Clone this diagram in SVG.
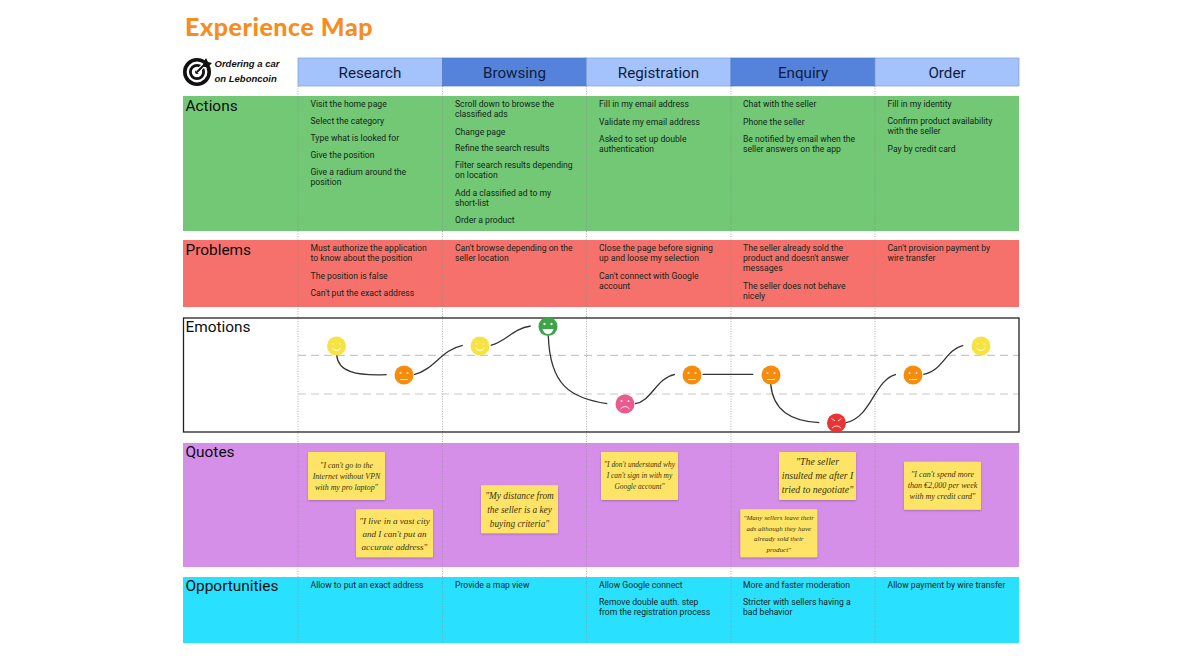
<svg xmlns="http://www.w3.org/2000/svg" width="1200" height="663" viewBox="0 0 1200 663">
<style>
text{font-family:Roboto,"Liberation Sans",sans-serif;fill:#12261a}
.t{font-size:8.65px}
.h{font-size:15.2px;text-anchor:middle;fill:#101c3c}
.r{font-size:15.4px;fill:#0c0c0c}
.l{fill:none;stroke:#333;stroke-width:1.3}
.d{stroke:#c8c8c8;stroke-width:1.2;stroke-dasharray:8 5}
.c{stroke:#8a8a8a;stroke-opacity:.65;stroke-width:1;stroke-dasharray:1 1.5}
.n{fill:#fde466;filter:url(#s)}
.q{font-family:"Liberation Serif",serif;font-style:italic;text-anchor:middle;fill:#3a3416}
.f{fill:none;stroke:#fff;stroke-opacity:.85;stroke-width:1}
.e{fill:#fff;fill-opacity:.85}
</style>
<defs>
<filter id="s" x="-10%" y="-10%" width="120%" height="125%"><feDropShadow dx="0" dy="1" stdDeviation="0.8" flood-color="#000" flood-opacity=".25"/></filter>
</defs>
<rect width="1200" height="663" fill="#fff"/>
<text id="title" x="185" y="36" textLength="189" style="font-family:Lato,sans-serif;font-weight:900;font-size:25px;fill:#f68d1f;letter-spacing:1.5px">Experience Map</text>

<g id="logo">
<circle cx="197" cy="72" r="12.2" fill="none" stroke="#111" stroke-width="3.6"/>
<circle cx="197" cy="72" r="6.6" fill="none" stroke="#111" stroke-width="2.8"/>
<circle cx="197" cy="72" r="2" fill="#111"/>
<path d="M197 72L205 64" stroke="#fff" stroke-width="4.5"/>
<path d="M197 72L205 64" stroke="#111" stroke-width="2"/>
<path d="M203 63L206 58L208 62L212 63L208 67L204 67Z" fill="#111"/>
<text x="214.500" y="67" style="font-family:'Liberation Sans',sans-serif;font-style:italic;font-weight:700;font-size:9.500px;fill:#111">Ordering a car</text>
<text x="214.500" y="82" style="font-family:'Liberation Sans',sans-serif;font-style:italic;font-weight:700;font-size:9.500px;fill:#111">on Leboncoin</text>
</g>

<g id="row-actions"><rect x="183" y="96" width="836" height="135" fill="#72c875"/><text class="r" x="185.500" y="110.500">Actions</text></g>
<g id="row-problems"><rect x="183" y="240" width="836" height="67" fill="#f7716c"/><text class="r" x="185.500" y="254.500">Problems</text></g>
<g id="row-emotions"><rect x="183.500" y="318" width="835.500" height="114" fill="#fff"/><text class="r" x="185.500" y="331.500">Emotions</text></g>
<g id="row-quotes"><rect x="183" y="443" width="836" height="124" fill="#d68fe8"/><text class="r" x="185.500" y="456.500">Quotes</text></g>
<g id="row-opportunities"><rect x="183" y="577" width="836" height="66" fill="#29e1ff"/><text class="r" x="185.500" y="591">Opportunities</text></g>

<g id="grid">
<path class="c" d="M298 86V643M442.500 86V643M586.500 86V643M731 86V643M875 86V643"/>
<path class="d" d="M298 355.300H1019M298 394H1019"/>
<rect x="183.500" y="318" width="835.500" height="114" fill="none" stroke="#222" stroke-width="1.300"/>
</g>

<g id="stage-research"><rect x="298" y="58" width="144.500" height="28" fill="#a4c2fb" stroke="#7f9fd8" stroke-width=".7"/><text class="h" x="370" y="77.500">Research</text></g>
<g id="stage-browsing"><rect x="442.500" y="58" width="144" height="28" fill="#5583db" stroke="#4a75c5" stroke-width=".7"/><text class="h" x="514.500" y="77.500">Browsing</text></g>
<g id="stage-registration"><rect x="586.500" y="58" width="144.500" height="28" fill="#a4c2fb" stroke="#7f9fd8" stroke-width=".7"/><text class="h" x="658.500" y="77.500">Registration</text></g>
<g id="stage-enquiry"><rect x="731" y="58" width="144" height="28" fill="#5583db" stroke="#4a75c5" stroke-width=".7"/><text class="h" x="803" y="77.500">Enquiry</text></g>
<g id="stage-order"><rect x="875" y="58" width="144" height="28" fill="#a4c2fb" stroke="#7f9fd8" stroke-width=".7"/><text class="h" x="947" y="77.500">Order</text></g>

<g id="actions-text">
<text class="t" x="310.500" y="107">Visit the home page</text>
<text class="t" x="310.500" y="124">Select the category</text>
<text class="t" x="310.500" y="141">Type what is looked for</text>
<text class="t" x="310.500" y="158">Give the position</text>
<text class="t" x="310.500" y="174.500">Give a radium around the</text>
<text class="t" x="310.500" y="184.500">position</text>
<text class="t" x="455" y="107">Scroll down to browse the</text>
<text class="t" x="455" y="117">classified ads</text>
<text class="t" x="455" y="134.500">Change page</text>
<text class="t" x="455" y="151">Refine the search results</text>
<text class="t" x="455" y="168">Filter search results depending</text>
<text class="t" x="455" y="178">on location</text>
<text class="t" x="455" y="195.500">Add a classified ad to my</text>
<text class="t" x="455" y="205.500">short-list</text>
<text class="t" x="455" y="223">Order a product</text>
<text class="t" x="599" y="107">Fill in my email address</text>
<text class="t" x="599" y="124.500">Validate my email address</text>
<text class="t" x="599" y="141.500">Asked to set up double</text>
<text class="t" x="599" y="151.500">authentication</text>
<text class="t" x="743" y="107">Chat with the seller</text>
<text class="t" x="743" y="124.500">Phone the seller</text>
<text class="t" x="743" y="141.500">Be notified by email when the</text>
<text class="t" x="743" y="151.500">seller answers on the app</text>
<text class="t" x="887.500" y="107">Fill in my identity</text>
<text class="t" x="887.500" y="124">Confirm product availability</text>
<text class="t" x="887.500" y="134">with the seller</text>
<text class="t" x="887.500" y="151.500">Pay by credit card</text>
</g>
<g id="problems-text">
<text class="t" x="310.500" y="251">Must authorize the application</text>
<text class="t" x="310.500" y="261">to know about the position</text>
<text class="t" x="310.500" y="278.500">The position is false</text>
<text class="t" x="310.500" y="295.500">Can't put the exact address</text>
<text class="t" x="455" y="251">Can't browse depending on the</text>
<text class="t" x="455" y="261">seller location</text>
<text class="t" x="599" y="251">Close the page before signing</text>
<text class="t" x="599" y="261">up and loose my selection</text>
<text class="t" x="599" y="278.500">Can't connect with Google</text>
<text class="t" x="599" y="288.500">account</text>
<text class="t" x="743" y="251">The seller already sold the</text>
<text class="t" x="743" y="261">product and doesn't answer</text>
<text class="t" x="743" y="271">messages</text>
<text class="t" x="743" y="289">The seller does not behave</text>
<text class="t" x="743" y="299">nicely</text>
<text class="t" x="887.500" y="251">Can't provision payment by</text>
<text class="t" x="887.500" y="261">wire transfer</text>
</g>

<g id="connectors">
<path class="l" d="M336.700 355C338 372 356 376 386.700 374.700"/>
<path class="l" d="M414 374.700C435 369 441 350 462.700 345.300"/>
<path class="l" d="M490.700 345.300C507 341 512 329 530.700 326"/>
<path class="l" d="M548.300 336C550 385 570 398 607.300 403.700"/>
<path class="l" d="M635 403.700C652 401 656 378 675 374.300"/>
<path class="l" d="M702.700 374.300H753.300"/>
<path class="l" d="M770.700 384C773 410 790 421 819.300 422.700"/>
<path class="l" d="M846 422.700C872 417 874 380 896 374.300"/>
<path class="l" d="M923.300 374.300C943 371 945 350 963.300 345.300"/>
</g>

<g id="e1"><circle cx="336.500" cy="346" r="9.500" fill="#f7e33f"/><path class="f" d="M332 348Q336.500 353 341 348M332 344h2M339 344h2"/></g>
<g id="e2"><circle cx="404" cy="375" r="9.500" fill="#f78c0c"/><path class="f" d="M400 379.500H408"/><circle class="e" cx="400.500" cy="373" r="1"/><circle class="e" cx="407.500" cy="373" r="1"/></g>
<g id="e3"><circle cx="480" cy="346" r="9.500" fill="#f7e33f"/><path class="f" d="M475.500 348Q480 353 484.500 348M475.500 344h2M482.500 344h2"/></g>
<g id="e4"><circle cx="548" cy="326.500" r="9.500" fill="#3da447"/><path d="M542.500 329H553.500Q552 334 548 334Q544 334 542.500 329Z" fill="#fff"/><circle class="e" cx="544.500" cy="324" r="1.200"/><circle class="e" cx="551.500" cy="324" r="1.200"/></g>
<g id="e5"><circle cx="625" cy="404" r="9.500" fill="#e95a8e"/><path class="f" d="M620.500 409Q625 404 629.500 409"/><circle class="e" cx="621.500" cy="401" r="1"/><circle class="e" cx="628.500" cy="401" r="1"/></g>
<g id="e6"><circle cx="692" cy="375" r="9.500" fill="#f78c0c"/><path class="f" d="M688 379.500H696"/><circle class="e" cx="688.500" cy="373" r="1"/><circle class="e" cx="695.500" cy="373" r="1"/></g>
<g id="e7"><circle cx="771" cy="375" r="9.500" fill="#f78c0c"/><path class="f" d="M767 379.500H775"/><circle class="e" cx="767.500" cy="373" r="1"/><circle class="e" cx="774.500" cy="373" r="1"/></g>
<g id="e8"><circle cx="836.500" cy="423" r="9.500" fill="#e83432"/><path class="f" d="M832 428Q836.500 424 841 428M831.500 418.500L835 421M841.500 418.500L838 421"/></g>
<g id="e9"><circle cx="913" cy="375" r="9.500" fill="#f78c0c"/><path class="f" d="M909 379.500H917"/><circle class="e" cx="909.500" cy="373" r="1"/><circle class="e" cx="916.500" cy="373" r="1"/></g>
<g id="e10"><circle cx="981" cy="346" r="9.500" fill="#f7e33f"/><path class="f" d="M976.500 348Q981 353 985.500 348M976.500 344h2M983.500 344h2"/></g>

<g id="note1"><rect class="n" x="308" y="452" width="77" height="48" rx="1"/><text class="q" font-size="7.900"><tspan x="346.500" y="468">"I can't go to the</tspan><tspan x="346.500" y="479">Internet without VPN</tspan><tspan x="346.500" y="490">with my pro laptop"</tspan></text></g>
<g id="note2"><rect class="n" x="356" y="509.300" width="77" height="48" rx="1"/><text class="q" font-size="9.100"><tspan x="394.500" y="524">"I live in a vast city</tspan><tspan x="394.500" y="537">and I can't put an</tspan><tspan x="394.500" y="550">accurate address"</tspan></text></g>
<g id="note3"><rect class="n" x="481" y="485.300" width="77" height="48" rx="1"/><text class="q" font-size="9.300"><tspan x="519.500" y="499">"My distance from</tspan><tspan x="519.500" y="513">the seller is a key</tspan><tspan x="519.500" y="527">buying criteria"</tspan></text></g>
<g id="note4"><rect class="n" x="601" y="452" width="77" height="48" rx="1"/><text class="q" font-size="7.400"><tspan x="639.500" y="467">"I don't understand why</tspan><tspan x="639.500" y="478">I can't sign in with my</tspan><tspan x="639.500" y="489">Google account"</tspan></text></g>
<g id="note5"><rect class="n" x="779" y="452" width="77" height="48" rx="1"/><text class="q" font-size="9.800"><tspan x="817.500" y="465">"The seller</tspan><tspan x="817.500" y="479">insulted me after I</tspan><tspan x="817.500" y="493">tried to negotiate"</tspan></text></g>
<g id="note6"><rect class="n" x="740.300" y="509.300" width="77" height="48" rx="1"/><text class="q" font-size="7"><tspan x="778.800" y="520">"Many sellers leave their</tspan><tspan x="778.800" y="530.500">ads although they have</tspan><tspan x="778.800" y="541">already sold their</tspan><tspan x="778.800" y="551.500">product"</tspan></text></g>
<g id="note7"><rect class="n" x="904" y="461.700" width="77" height="48" rx="1"/><text class="q" font-size="8.100"><tspan x="942.500" y="477">"I can't spend more</tspan><tspan x="942.500" y="488">than €2,000 per week</tspan><tspan x="942.500" y="499">with my credit card"</tspan></text></g>

<g id="opportunities-text">
<text class="t" x="310.500" y="588">Allow to put an exact address</text>
<text class="t" x="455" y="588">Provide a map view</text>
<text class="t" x="599" y="588">Allow Google connect</text>
<text class="t" x="599" y="605">Remove double auth. step</text>
<text class="t" x="599" y="615">from the registration process</text>
<text class="t" x="743" y="588">More and faster moderation</text>
<text class="t" x="743" y="605">Stricter with sellers having a</text>
<text class="t" x="743" y="615">bad behavior</text>
<text class="t" x="887.500" y="588">Allow payment by wire transfer</text>
</g>
</svg>
